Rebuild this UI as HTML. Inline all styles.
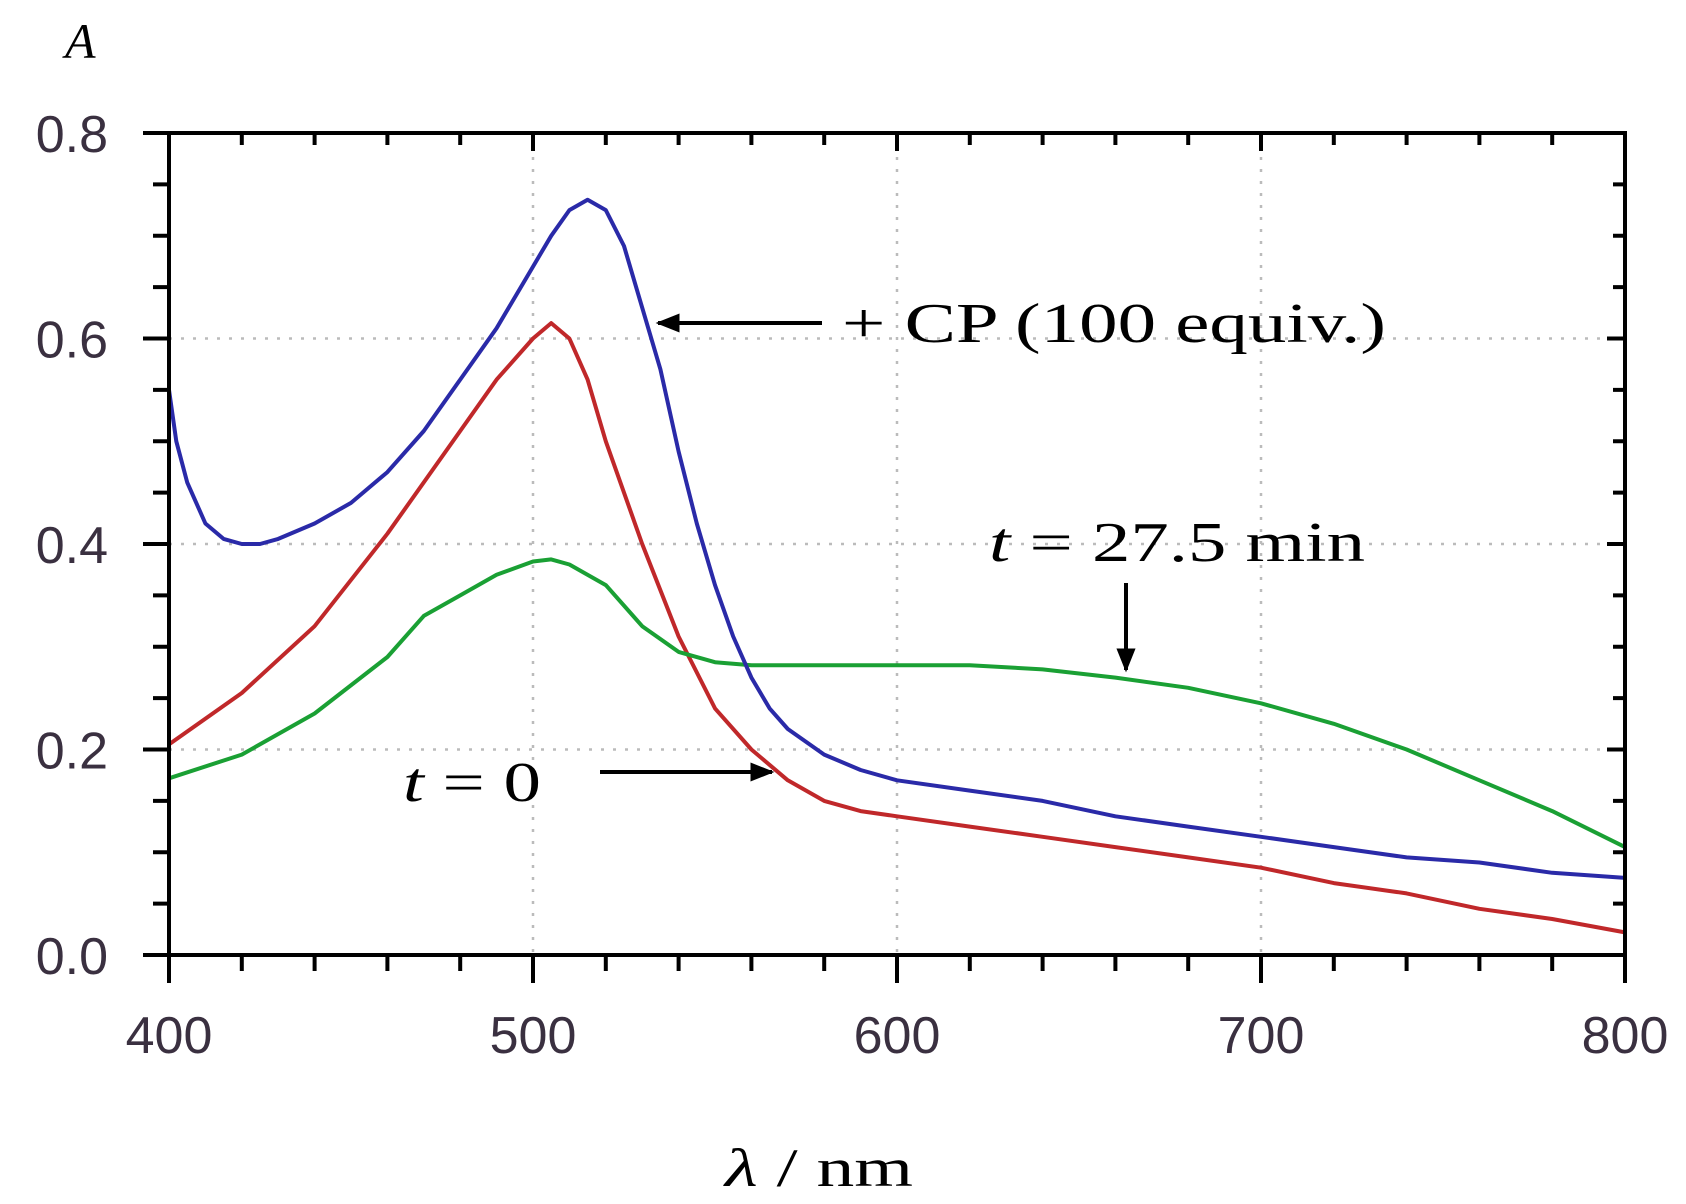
<!DOCTYPE html>
<html><head><meta charset="utf-8"><style>
html,body{margin:0;padding:0;background:#fff;}
svg{display:block;}
</style></head><body>
<svg id="chart" width="1686" height="1204" xmlns="http://www.w3.org/2000/svg">
<defs><marker id="ah" viewBox="0 0 10 10" refX="9" refY="5" markerWidth="6" markerHeight="6" orient="auto-start-reverse"><path d="M0,1 L10,5 L0,9 z" fill="#000"/></marker></defs>
<g id="grid"></g>
<g id="series"></g>
<g id="axes"></g>
<text x="65" y="58" font-family="Liberation Serif, serif" font-style="italic" font-size="50">A</text>
<text x="725" y="1186" font-family="Liberation Serif, serif" font-size="54" textLength="188" lengthAdjust="spacingAndGlyphs"><tspan font-style="italic">λ</tspan> / nm</text>
<text x="842" y="342" font-family="Liberation Serif, serif" font-size="56" textLength="544" lengthAdjust="spacingAndGlyphs">+ CP (100 equiv.)</text>
<line x1="822" y1="323" x2="658" y2="323" stroke="#000" stroke-width="4" marker-end="url(#ah)"/>
<text x="989" y="561" font-family="Liberation Serif, serif" font-size="56" textLength="376" lengthAdjust="spacingAndGlyphs"><tspan font-style="italic">t</tspan> = 27.5 min</text>
<line x1="1126" y1="583" x2="1126" y2="670" stroke="#000" stroke-width="4" marker-end="url(#ah)"/>
<text x="403" y="801" font-family="Liberation Serif, serif" font-size="56" textLength="138" lengthAdjust="spacingAndGlyphs"><tspan font-style="italic">t</tspan> = 0</text>
<line x1="600" y1="772" x2="772" y2="772" stroke="#000" stroke-width="4" marker-end="url(#ah)"/>
</svg>
<script>
const xBlue=[400,402,405,410,415,420,425,430,440,450,460,470,480,490,500,505,510,515,520,525,530,535,540,545,550,555,560,565,570,580,590,600,620,640,660,680,700,720,740,760,780,800];
const yBlue=[0.55,0.50,0.46,0.42,0.405,0.40,0.40,0.405,0.42,0.44,0.47,0.51,0.56,0.61,0.67,0.70,0.725,0.735,0.725,0.69,0.63,0.57,0.49,0.42,0.36,0.31,0.27,0.24,0.22,0.195,0.18,0.17,0.16,0.15,0.135,0.125,0.115,0.105,0.095,0.09,0.08,0.075];
const xRed=[400,420,440,460,480,490,500,505,510,515,520,530,540,550,560,570,580,590,600,620,640,660,680,700,720,740,760,780,800];
const yRed=[0.205,0.255,0.32,0.41,0.51,0.56,0.60,0.615,0.60,0.56,0.50,0.40,0.31,0.24,0.20,0.17,0.15,0.14,0.135,0.125,0.115,0.105,0.095,0.085,0.07,0.06,0.045,0.035,0.022];
const xGreen=[400,420,440,460,470,480,490,500,505,510,520,530,540,550,560,580,600,620,640,660,680,700,720,740,760,780,800];
const yGreen=[0.172,0.195,0.235,0.29,0.33,0.35,0.37,0.383,0.385,0.38,0.36,0.32,0.295,0.285,0.282,0.282,0.282,0.282,0.278,0.27,0.26,0.245,0.225,0.20,0.17,0.14,0.105];
const xTicks=[400,500,600,700,800];
const yTicks=[0.0,0.2,0.4,0.6,0.8];
const X0=169,X1=1625,Y0=955,Y1=133;
const sx=v=>X0+(v-400)/400*(X1-X0);
const sy=v=>Y0-v/0.8*(Y0-Y1);
const NS='http://www.w3.org/2000/svg';
function mk(tag,attrs,parent){const e=document.createElementNS(NS,tag);for(const k in attrs)e.setAttribute(k,attrs[k]);parent.appendChild(e);return e;}
const grid=document.getElementById('grid'),axes=document.getElementById('axes'),ser=document.getElementById('series');
xTicks.forEach(t=>{if(t>400&&t<800){const l=mk('line',{x1:sx(t),x2:sx(t),y1:Y1,y2:Y0,stroke:'#bbb','stroke-width':2.5,'stroke-dasharray':'3 9'},grid);

}});
yTicks.forEach(t=>{if(t>0&&t<0.8){const l=mk('line',{x1:X0,x2:X1,y1:sy(t),y2:sy(t),stroke:'#bbb','stroke-width':2.5,'stroke-dasharray':'3 9'},grid);

}});
function series(xs,ys,color,name){const d=xs.map((x,i)=>(i?'L':'M')+sx(x).toFixed(1)+','+sy(ys[i]).toFixed(1)).join(' ');
const p=mk('path',{d:d,fill:'none',stroke:color,'stroke-width':4,'stroke-linejoin':'round'},ser);

}
series(xRed,yRed,'#c0282a','series-t0');
series(xGreen,yGreen,'#1aa034','series-t27');
series(xBlue,yBlue,'#2a2aa8','series-cp');
const frame=mk('rect',{x:X0,y:Y1,width:X1-X0,height:Y0-Y1,fill:'none',stroke:'#000','stroke-width':4},axes);


for(let v=400;v<=800;v+=20){const major=(v%100===0);const x=sx(v);
mk('line',{x1:x,x2:x,y1:Y0,y2:Y0+(major?28:16),stroke:'#000','stroke-width':4},axes);
mk('line',{x1:x,x2:x,y1:Y1,y2:Y1+(major?18:12),stroke:'#000','stroke-width':4},axes);}
for(let i=0;i<=16;i++){const v=i*0.05;const y=sy(v);const major=(i%4===0);
mk('line',{x1:X0-(major?26:16),x2:X0,y1:y,y2:y,stroke:'#000','stroke-width':4},axes);
mk('line',{x1:X1-(major?18:12),x2:X1,y1:y,y2:y,stroke:'#000','stroke-width':4},axes);}
xTicks.forEach(t=>{const e=mk('text',{x:sx(t),y:1053,'text-anchor':'middle','font-family':'Liberation Sans, sans-serif','font-size':52,fill:'#3a3040'},axes);e.textContent=String(t);

});
yTicks.forEach(t=>{const e=mk('text',{x:108,y:sy(t)+19,'text-anchor':'end','font-family':'Liberation Sans, sans-serif','font-size':52,fill:'#3a3040'},axes);e.textContent=t.toFixed(1);

});
</script>
</body></html>
